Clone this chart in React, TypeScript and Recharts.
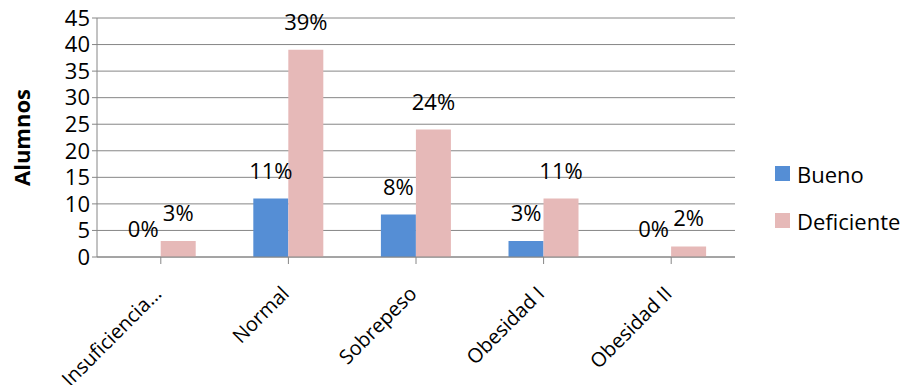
import { BarChart, Bar, XAxis, YAxis, CartesianGrid, LabelList } from "recharts";

const categories = ["Insuficiencia…", "Normal", "Sobrepeso", "Obesidad I", "Obesidad II"];
const buenoValues = [0, 11, 8, 3, 0];
const deficienteValues = [3, 39, 24, 11, 2];
const buenoPct = ["0%", "11%", "8%", "3%", "0%"];
const deficientePct = ["3%", "39%", "24%", "11%", "2%"];
const yTicks = [0, 5, 10, 15, 20, 25, 30, 35, 40, 45];

const data = categories.map((name, i) => ({
  name,
  bueno: buenoValues[i],
  deficiente: deficienteValues[i],
  buenoPct: buenoPct[i],
  deficientePct: deficientePct[i],
}));

const FONT = "'Open Sans', sans-serif";
const FS = 22;
const AXIS = "#868686";
const BLUE = "#558ED5";
const PINK = "#E6B9B8";

// eslint-disable-next-line @typescript-eslint/no-explicit-any
function XTick(props: any) {
  const { x, y, payload } = props;
  const ax = x + 2;
  const ay = y + 29;
  return (
    <text
      x={ax}
      y={ay}
      textAnchor="end"
      fontSize={20}
      fontFamily={FONT}
      fill="#000"
      transform={`rotate(-45, ${ax}, ${ay})`}
    >
      {payload.value}
    </text>
  );
}

// eslint-disable-next-line @typescript-eslint/no-explicit-any
function YLabel(props: any) {
  const { viewBox } = props;
  const x = viewBox.x - 10;
  const y = viewBox.y + viewBox.height / 2;
  return (
    <text
      x={x}
      y={y}
      textAnchor="middle"
      fontSize={FS}
      fontWeight={700}
      fontFamily={FONT}
      fill="#000"
      transform={`rotate(-90, ${x}, ${y})`}
    >
      Alumnos
    </text>
  );
}

const legendItems = [
  { label: "Bueno", color: BLUE },
  { label: "Deficiente", color: PINK },
];

export default function App() {
  return (
    <div style={{ position: "absolute", left: 0, top: 0, width: 907, height: 385, background: "#fff" }}>
      <BarChart
        width={907}
        height={385}
        data={data}
        margin={{ top: 18, right: 172, left: 40, bottom: 0 }}
        barCategoryGap="22.5%"
        barGap={0}
      >
        <CartesianGrid horizontal vertical={false} stroke={AXIS} strokeWidth={1} />
        <XAxis
          dataKey="name"
          height={128}
          interval={0}
          tick={<XTick />}
          axisLine={{ stroke: AXIS }}
          tickLine={{ stroke: AXIS }}
          tickSize={7}
        />
        <YAxis
          domain={[0, 45]}
          ticks={yTicks}
          width={57}
          interval={0}
          axisLine={{ stroke: AXIS }}
          tickLine={{ stroke: AXIS }}
          tickSize={5}
          tick={{ fill: "#000", fontSize: FS, fontFamily: FONT }}
          label={<YLabel />}
        />
        <Bar dataKey="bueno" name="Bueno" fill={BLUE} minPointSize={0.01} isAnimationActive={false}>
          <LabelList dataKey="buenoPct" position="top" offset={20} style={{ fontSize: FS, fontFamily: FONT, fill: "#000" }} />
        </Bar>
        <Bar dataKey="deficiente" name="Deficiente" fill={PINK} isAnimationActive={false}>
          <LabelList dataKey="deficientePct" position="top" offset={20} style={{ fontSize: FS, fontFamily: FONT, fill: "#000" }} />
        </Bar>
      </BarChart>
      <div style={{ position: "absolute", left: 775, top: 150, fontFamily: FONT, fontSize: FS, color: "#000" }}>
        {legendItems.map((it) => (
          <div key={it.label} style={{ display: "flex", alignItems: "center", height: 47 }}>
            <span style={{ width: 15, height: 15, background: it.color, marginRight: 7, display: "inline-block" }} />
            <span>{it.label}</span>
          </div>
        ))}
      </div>
    </div>
  );
}
